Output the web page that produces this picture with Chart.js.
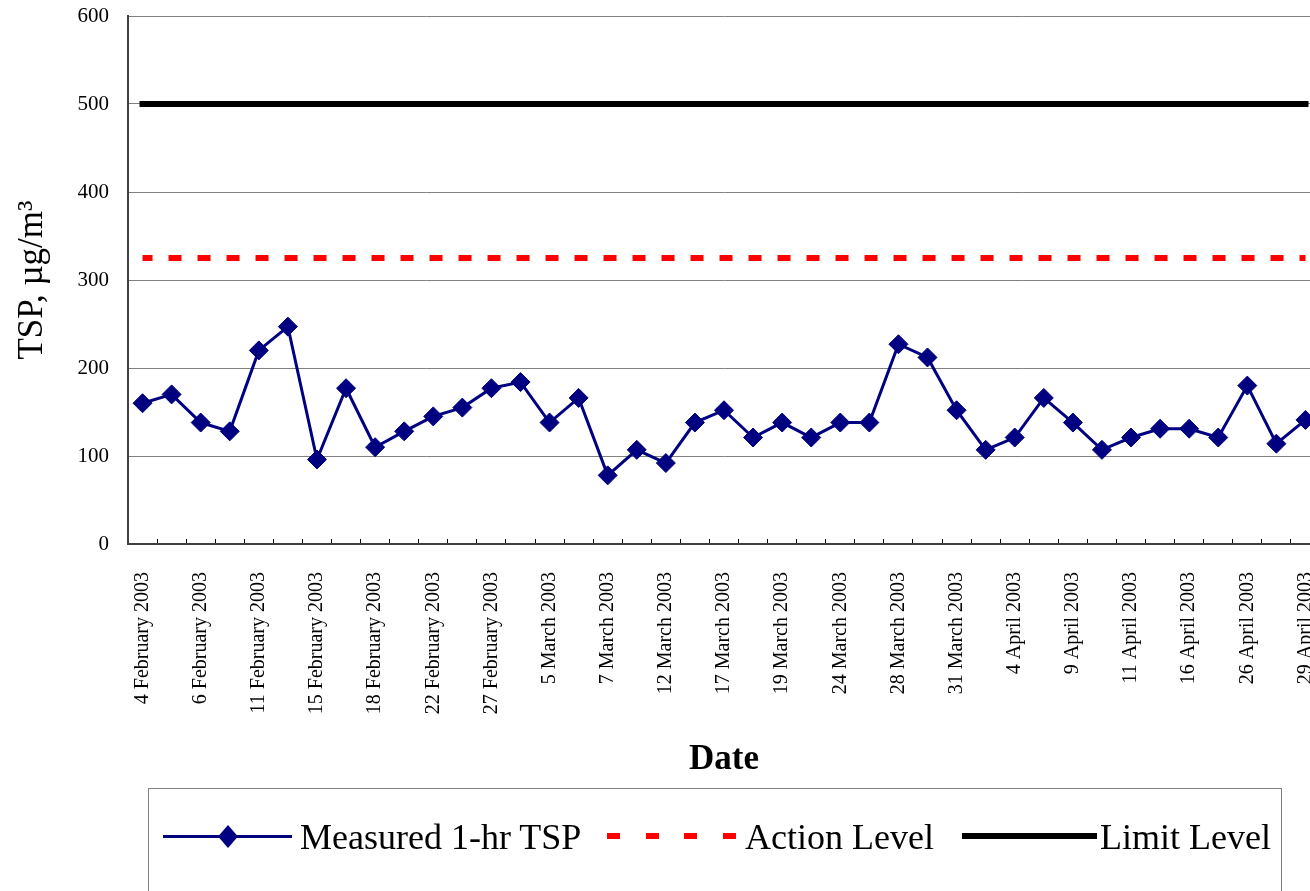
<!DOCTYPE html>
<html>
<head>
<meta charset="utf-8">
<script src="https://cdn.jsdelivr.net/npm/chart.js@4.4.1/dist/chart.umd.min.js"></script>
<style>
  html, body { margin: 0; padding: 0; background: #fff; overflow: hidden; }
  #wrap { position: relative; width: 1320px; height: 891px; }
  #tspChart { position: absolute; left: 0; top: 0; }
  #legend {
    position: absolute; left: 148px; top: 788px; width: 1132px; height: 160px;
    border: 1px solid #7f7f7f; box-sizing: content-box;
    font-family: 'Liberation Serif', 'Times New Roman', serif; font-size: 36px; color: #000;
  }
  #legend .sw, #legend .tx { position: absolute; }
  #legend .tx { top: 28px; line-height: 40px; white-space: nowrap; }
</style>
</head>
<body>
<div id="wrap">
  <canvas id="tspChart" width="1320" height="790"></canvas>
  <div id="legend">
    <div class="sw" style="left:14px; top:46px; width:129px; height:3px; background:#000080;"></div>
    <div class="sw" style="left:69px; top:36px; width:20px; height:23px; background:#000080;
         clip-path: polygon(50% 0, 100% 50%, 50% 100%, 0 50%);"></div>
    <span class="tx" style="left:151px;">Measured 1-hr TSP</span>
    <div class="sw" style="left:458px; top:44px; width:130px; height:6px;
         background: repeating-linear-gradient(to right, #ff0000 0 13px, transparent 13px 38.7px);"></div>
    <span class="tx" style="left:596px;">Action Level</span>
    <div class="sw" style="left:813px; top:44px; width:135px; height:6px; background:#000;"></div>
    <span class="tx" style="left:951px;">Limit Level</span>
  </div>
</div>
<script>
const SERIF = "'Liberation Serif', 'Times New Roman', serif";

// every other reading has its date printed on the axis
const dates = [
  '4 February 2003', '', '6 February 2003', '', '11 February 2003', '',
  '15 February 2003', '', '18 February 2003', '', '22 February 2003', '',
  '27 February 2003', '', '5 March 2003', '', '7 March 2003', '',
  '12 March 2003', '', '17 March 2003', '', '19 March 2003', '',
  '24 March 2003', '', '28 March 2003', '', '31 March 2003', '',
  '4 April 2003', '', '9 April 2003', '', '11 April 2003', '',
  '16 April 2003', '', '26 April 2003', '', '29 April 2003'
];

// measured 1-hr TSP, ug/m3
const tsp = [
  160, 170, 138, 128, 220, 247, 96, 177, 110, 128, 145,
  155, 177, 184, 138, 166, 78, 107, 92, 138, 152,
  121, 138, 121, 138, 138, 227, 212, 152, 107, 121,
  166, 138, 107, 121, 131, 131, 121, 180, 114, 141
];

const actionLevel = 325;
const limitLevel = 500;

const yMin = 0, yMax = 600, yStep = 100;

const ctx = document.getElementById('tspChart').getContext('2d');

new Chart(ctx, {
  type: 'line',
  data: {
    labels: dates,
    datasets: [
      {
        label: 'Measured 1-hr TSP',
        data: tsp,
        borderColor: '#000080',
        borderWidth: 3,
        tension: 0,
        pointStyle: 'rectRot',
        pointRadius: 9.5,
        pointBackgroundColor: '#000080',
        pointBorderColor: '#000080',
        pointBorderWidth: 1
      },
      {
        label: 'Action Level',
        data: dates.map(() => actionLevel),
        borderColor: '#ff0000',
        borderWidth: 6,
        borderDash: [13, 16],
        borderDashOffset: 3,
        borderCapStyle: 'butt',
        pointRadius: 0
      },
      {
        label: 'Limit Level',
        data: dates.map(() => limitLevel),
        borderColor: '#000000',
        borderWidth: 6,
        borderCapStyle: 'square',
        pointRadius: 0
      }
    ]
  },
  options: {
    responsive: false,
    animation: false,
    layout: { autoPadding: false, padding: { top: 16, right: 0, left: 0, bottom: 0 } },
    plugins: { legend: { display: false }, tooltip: { enabled: false } },
    scales: {
      x: {
        offset: true,
        grid: { offset: true, drawOnChartArea: false, drawTicks: true, tickLength: -5, color: '#000' },
        border: { color: '#404040', width: 2 },
        ticks: {
          autoSkip: false, maxRotation: 90, minRotation: 90, padding: 33,
          color: '#000', font: { family: SERIF, size: 20 }
        },
        title: {
          display: true, text: 'Date', color: '#000',
          font: { family: SERIF, size: 35, weight: 'bold' },
          padding: { top: 0, bottom: 9 }
        },
        afterFit: (scale) => {
          scale.height = 246;
          scale.paddingLeft = 0;
          scale.paddingRight = 0;
        }
      },
      y: {
        min: yMin, max: yMax,
        ticks: { stepSize: yStep, padding: 19, color: '#000', font: { family: SERIF, size: 21 } },
        grid: { color: '#808080', drawTicks: false },
        border: { color: '#404040', width: 2 },
        title: {
          display: true, text: 'TSP, µg/m³', color: '#000',
          font: { family: SERIF, size: 35 },
          padding: { top: 12, bottom: 0 }
        },
        afterFit: (scale) => {
          scale.width = 128;
          scale.paddingTop = 0;
          scale.paddingBottom = 0;
        }
      }
    }
  }
});
</script>
</body>
</html>
